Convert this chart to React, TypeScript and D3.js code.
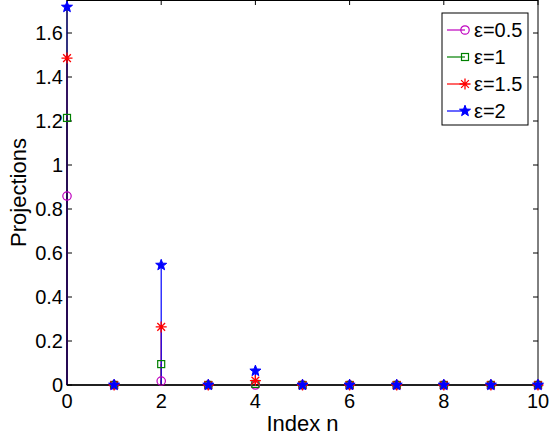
import React from "react";
import * as d3 from "d3";

const indices = [0, 1, 2, 3, 4, 5, 6, 7, 8, 9, 10];
const seriesNames = ["ε=0.5", "ε=1", "ε=1.5", "ε=2"];
const eps05 = [0.859, 0, 0.018, 0, 0.0, 0, 0, 0, 0, 0, 0];
const eps1 = [1.214, 0, 0.095, 0, 0.005, 0, 0, 0, 0, 0, 0];
const eps15 = [1.486, 0, 0.264, 0, 0.02, 0, 0, 0, 0, 0, 0];
const eps2 = [1.718, 0, 0.545, 0, 0.064, 0, 0, 0, 0, 0, 0];
const xTicks = [0, 2, 4, 6, 8, 10];
const yTicks = [0, 0.2, 0.4, 0.6, 0.8, 1, 1.2, 1.4, 1.6];

const colors = ["#bf00bf", "#008000", "#ff0000", "#0000ff"];
const markers = ["circle", "square", "asterisk", "star"];
const allSeries = [eps05, eps1, eps15, eps2];

const W = 550, H = 439;
const L = 67, R = 538, T = 0, B = 385;

function Marker({ type, x, y, color }: { type: string; x: number; y: number; color: string }) {
  if (type === "circle") return <circle cx={x} cy={y} r={4.2} fill="none" stroke={color} strokeWidth={1.2} />;
  if (type === "square") return <rect x={x - 3.5} y={y - 3.5} width={7} height={7} fill="none" stroke={color} strokeWidth={1.2} />;
  if (type === "asterisk") {
    const r = 5.5;
    const segs = [0, 45, 90, 135].map((a) => {
      const rad = (a * Math.PI) / 180;
      return `M${x - r * Math.cos(rad)},${y - r * Math.sin(rad)}L${x + r * Math.cos(rad)},${y + r * Math.sin(rad)}`;
    });
    return <path d={segs.join("")} stroke={color} strokeWidth={1.3} fill="none" />;
  }
  // pentagram
  const ro = 5.8, ri = 2.4;
  const pts: string[] = [];
  for (let i = 0; i < 10; i++) {
    const a = -Math.PI / 2 + (i * Math.PI) / 5;
    const r = i % 2 === 0 ? ro : ri;
    pts.push(`${x + r * Math.cos(a)},${y + r * Math.sin(a)}`);
  }
  return <polygon points={pts.join(" ")} fill={color} stroke={color} strokeWidth={1} />;
}

export default function App() {
  const x = d3.scaleLinear().domain([0, 10]).range([L, R]);
  const y = d3.scaleLinear().domain([0, 1.75]).range([B, T]);
  const font = "'Liberation Sans', Arial, Helvetica, sans-serif";
  const legX = 442, legY = 13, legW = 86, legH = 112;
  const rowY = [30, 57, 84, 111];

  return (
    <svg width={W} height={H} style={{ position: "absolute", left: 0, top: 0, background: "#fff" }} fontFamily={font}>
      <rect x={0} y={0} width={W} height={H} fill="#fff" />
      {xTicks.map((t) => (
        <g key={"xt" + t}>
          <line x1={x(t)} x2={x(t)} y1={B} y2={B - 5} stroke="#000" />
          <line x1={x(t)} x2={x(t)} y1={T} y2={T + 5} stroke="#000" />
          <text x={x(t)} y={B + 23} textAnchor="middle" fontSize={20}>{t}</text>
        </g>
      ))}
      {yTicks.map((t) => (
        <g key={"yt" + t}>
          <line x1={L} x2={L + 5} y1={y(t)} y2={y(t)} stroke="#000" />
          <line x1={R} x2={R - 5} y1={y(t)} y2={y(t)} stroke="#000" />
          <text x={L - 4} y={y(t) + 7} textAnchor="end" fontSize={20}>{t === 0 ? "0" : d3.format(".1f")(t).replace(/\.0$/, "")}</text>
        </g>
      ))}
      {allSeries.map((s, si) => (
        <g key={"s" + si}>
          {s.map((v, i) => (
            <line key={i} x1={x(indices[i])} x2={x(indices[i])} y1={y(0)} y2={y(v)} stroke={colors[si]} strokeWidth={1.2} />
          ))}
        </g>
      ))}
      <rect x={L} y={T + 0.5} width={R - L} height={B - T - 0.5} fill="none" stroke="#000" strokeWidth={1} />
      <line x1={L} x2={R} y1={B} y2={B} stroke="#000" strokeWidth={1.5} />
      {allSeries.map((s, si) => (
        <g key={"m" + si}>
          {s.map((v, i) => (
            <Marker key={i} type={markers[si]} x={x(indices[i])} y={y(v)} color={colors[si]} />
          ))}
        </g>
      ))}
      <text x={(L + R) / 2} y={431} textAnchor="middle" fontSize={22}>Index n</text>
      <text transform={`translate(26,${(T + B) / 2}) rotate(-90)`} textAnchor="middle" fontSize={22}>Projections</text>
      <rect x={legX} y={legY} width={legW} height={legH} fill="#fff" stroke="#000" strokeWidth={1} />
      {seriesNames.map((n, i) => (
        <g key={"l" + i}>
          <line x1={447} x2={465} y1={rowY[i]} y2={rowY[i]} stroke={colors[i]} strokeWidth={1.2} />
          <Marker type={markers[i]} x={465} y={rowY[i]} color={colors[i]} />
          <text x={474} y={rowY[i] + 7} fontSize={20}>{n}</text>
        </g>
      ))}
    </svg>
  );
}
